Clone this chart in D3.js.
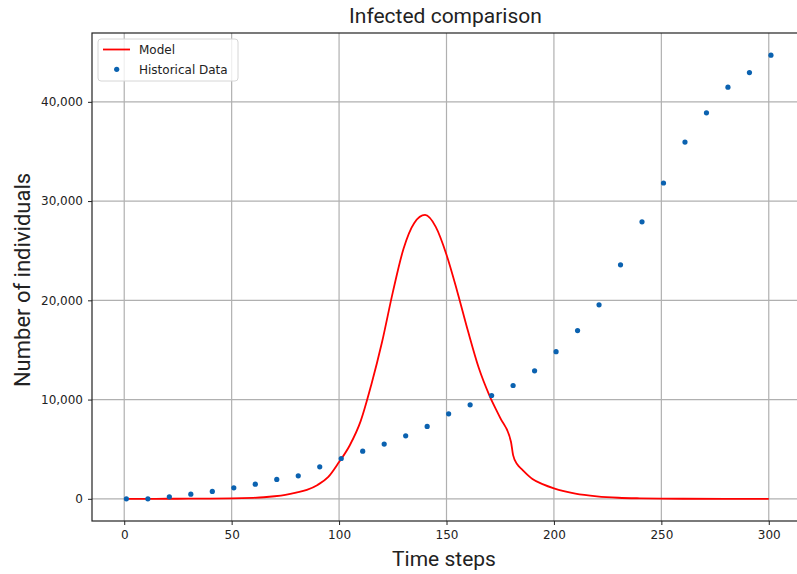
<!DOCTYPE html>
<html>
<head>
<meta charset="utf-8">
<script src="https://cdn.jsdelivr.net/npm/d3@7"></script>
<style>
  body { margin: 0; background: #fff; }
  svg { display: block; }
</style>
</head>
<body>
<div id="chart"></div>
<script>
// historical data, sampled every 10 steps
const histSteps = [1, 11, 21, 31, 41, 51, 61, 71, 81, 91, 101, 111, 121, 131, 141, 151,
  161, 171, 181, 191, 201, 211, 221, 231, 241, 251, 261, 271, 281, 291, 301];
const histValues = [0, 0, 200, 470, 740, 1110, 1480, 1950, 2320, 3220, 4060, 4800, 5520,
  6350, 7290, 8560, 9470, 10410, 11420, 12900, 14830, 16950, 19550, 23580, 27910, 31820,
  35940, 38890, 41480, 42950, 44700];

// model curve
const modelSteps = [0, 10, 20, 30, 40, 50, 55, 60, 65, 70, 75, 80, 85, 90, 95, 100, 105,
  110, 115, 120, 125, 130, 135, 140, 145, 150, 155, 160, 165, 170, 175, 180, 181, 183,
  185, 190, 195, 200, 210, 220, 230, 240, 250, 260, 280, 300];
const modelValues = [0, 0, 5, 10, 20, 40, 60, 100, 160, 260, 400, 620, 900, 1400, 2200,
  3700, 5400, 7800, 11500, 15800, 20800, 25200, 27800, 28600, 27400, 24600, 20900, 16900,
  13200, 10400, 8150, 5750, 4400, 3450, 3000, 2000, 1450, 1050, 520, 250, 110, 50, 20, 8,
  2, 0];

const xTicks = [0, 50, 100, 150, 200, 250, 300];
const yTicks = [0, 10000, 20000, 30000, 40000];

const w = 797;
const h = 574;
const padLeft = 92;
const padRight = 801;
const padTop = 33;
const padBottom = 521;
const tickFont = "'DejaVu Sans', sans-serif";
const labelFont = "Roboto, sans-serif";

const svg = d3
  .select("#chart")
  .append("svg")
  .attr("width", w)
  .attr("height", h);

const xScale = d3.scaleLinear().domain([-15, 315]).range([padLeft, padRight]);
const yScale = d3.scaleLinear().domain([-2235, 46935]).range([padBottom, padTop]);

// grid
svg
  .append("g")
  .selectAll("line")
  .data(xTicks)
  .enter()
  .append("line")
  .attr("x1", (d) => xScale(d))
  .attr("x2", (d) => xScale(d))
  .attr("y1", padTop)
  .attr("y2", padBottom)
  .attr("stroke", "#b0b0b0")
  .attr("stroke-width", 1.2);
svg
  .append("g")
  .selectAll("line")
  .data(yTicks)
  .enter()
  .append("line")
  .attr("x1", padLeft)
  .attr("x2", padRight)
  .attr("y1", (d) => yScale(d))
  .attr("y2", (d) => yScale(d))
  .attr("stroke", "#b0b0b0")
  .attr("stroke-width", 1.2);

// axes
const xAxis = d3.axisBottom(xScale).tickValues(xTicks).tickSize(4).tickPadding(5);
const yAxis = d3
  .axisLeft(yScale)
  .tickValues(yTicks)
  .tickSize(4)
  .tickPadding(5)
  .tickFormat(d3.format(","));
svg
  .append("g")
  .attr("id", "x-axis")
  .attr("transform", `translate(0,${padBottom})`)
  .call(xAxis);
svg
  .append("g")
  .attr("id", "y-axis")
  .attr("transform", `translate(${padLeft},0)`)
  .call(yAxis);
svg.selectAll(".domain").remove();
svg
  .selectAll(".tick text")
  .style("font-family", tickFont)
  .style("font-size", "12px")
  .attr("fill", "#222");
svg.selectAll(".tick line").attr("stroke", "#222");

// frame
svg
  .append("rect")
  .attr("x", padLeft)
  .attr("y", padTop)
  .attr("width", padRight - padLeft)
  .attr("height", padBottom - padTop)
  .attr("fill", "none")
  .attr("stroke", "#222")
  .attr("stroke-width", 1.2);

// model line
const model = modelSteps.map((t, i) => [t, modelValues[i]]);
const line = d3
  .line()
  .x((d) => xScale(d[0]))
  .y((d) => yScale(d[1]))
  .curve(d3.curveMonotoneX);
svg
  .append("path")
  .datum(model)
  .attr("d", line)
  .attr("fill", "none")
  .attr("stroke", "#ff0000")
  .attr("stroke-width", 1.8);

// historical points
svg
  .append("g")
  .selectAll("circle")
  .data(histSteps)
  .enter()
  .append("circle")
  .attr("cx", (d) => xScale(d))
  .attr("cy", (d, i) => yScale(histValues[i]))
  .attr("r", 2.6)
  .attr("fill", "#0b62b0");

// legend
const legend = svg.append("g").attr("transform", "translate(98,39)");
legend
  .append("rect")
  .attr("width", 140)
  .attr("height", 42)
  .attr("rx", 3)
  .attr("fill", "rgba(255,255,255,0.8)")
  .attr("stroke", "#d6d6d6");
legend
  .append("line")
  .attr("x1", 5)
  .attr("x2", 32)
  .attr("y1", 10.5)
  .attr("y2", 10.5)
  .attr("stroke", "#ff0000")
  .attr("stroke-width", 1.8);
legend
  .append("circle")
  .attr("cx", 18.7)
  .attr("cy", 30.3)
  .attr("r", 2.6)
  .attr("fill", "#0b62b0");
legend
  .selectAll("text")
  .data(["Model", "Historical Data"])
  .enter()
  .append("text")
  .attr("x", 41)
  .attr("y", (d, i) => 14.5 + i * 20)
  .style("font-family", tickFont)
  .style("font-size", "12px")
  .attr("fill", "#222")
  .text((d) => d);

// titles
svg
  .append("text")
  .attr("x", (padLeft + padRight) / 2 - 1)
  .attr("y", 23)
  .attr("text-anchor", "middle")
  .style("font-family", labelFont)
  .style("font-size", "21px")
  .attr("fill", "#222")
  .text("Infected comparison");
svg
  .append("text")
  .attr("x", 444)
  .attr("y", 566)
  .attr("text-anchor", "middle")
  .style("font-family", labelFont)
  .style("font-size", "21px")
  .attr("fill", "#222")
  .text("Time steps");
svg
  .append("text")
  .attr("transform", `translate(30,${(padTop + padBottom) / 2 + 3}) rotate(-90)`)
  .attr("text-anchor", "middle")
  .style("font-family", labelFont)
  .style("font-size", "22px")
  .attr("fill", "#222")
  .text("Number of individuals");
</script>
</body>
</html>
